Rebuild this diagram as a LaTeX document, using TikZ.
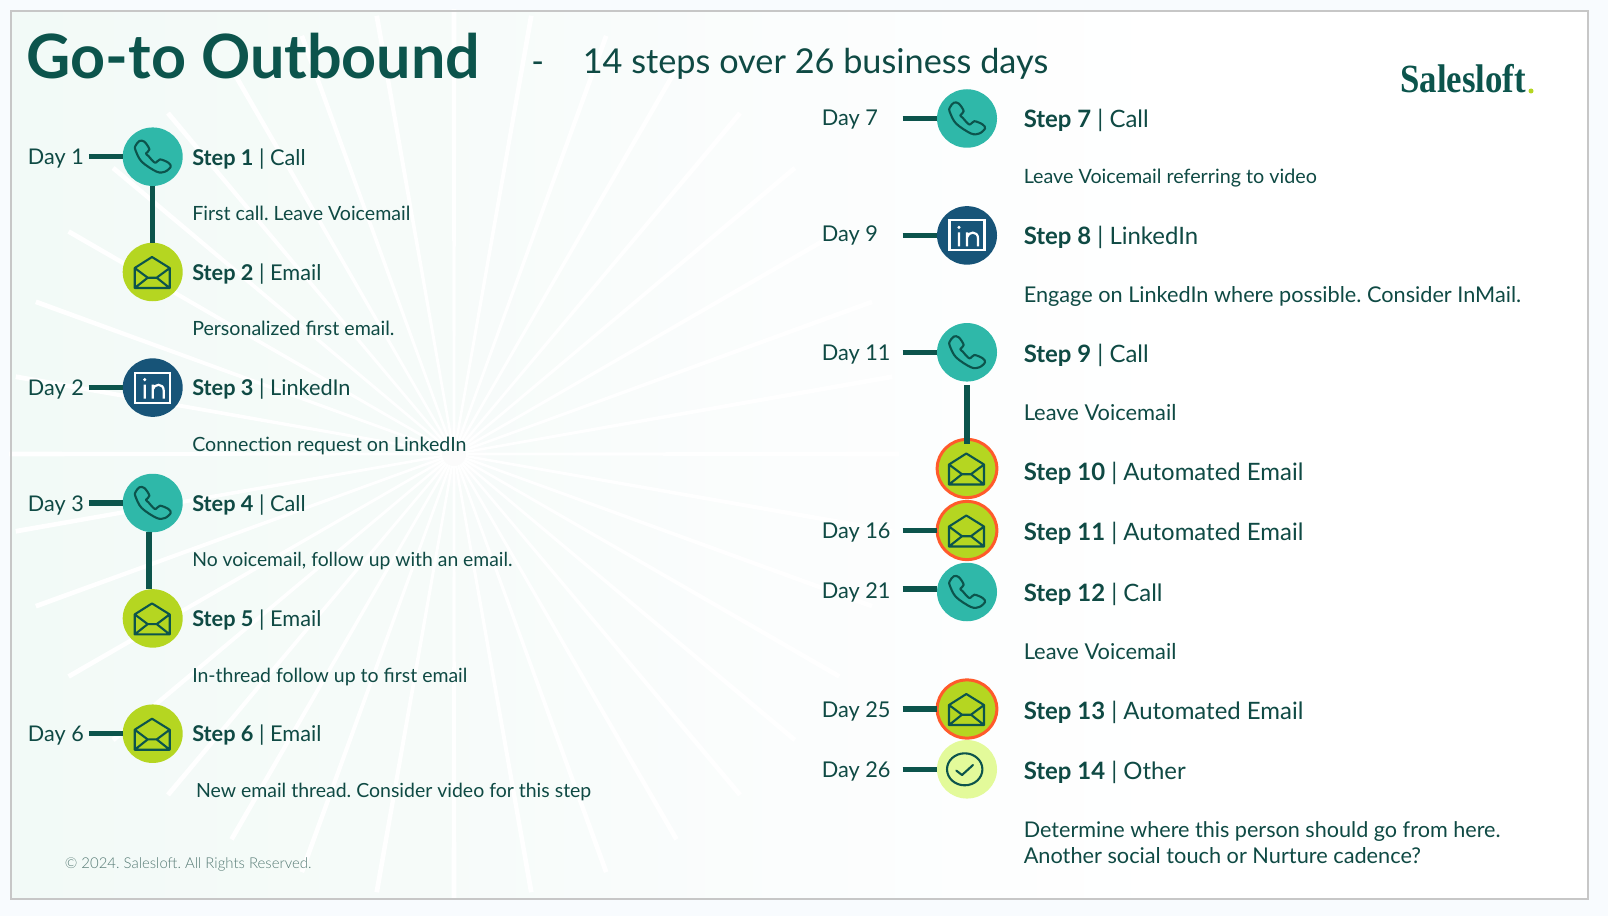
\documentclass[tikz,border=0pt]{standalone}
\usepackage{fontspec}
\setmainfont{Lato}
\newfontfamily\lightfont{Lato Light}
\newfontfamily\logofont[FakeStretch=0.87]{Liberation Serif}
\usetikzlibrary{calc,shadings,shapes.geometric}
\frenchspacing
\definecolor{ink}{HTML}{0F4A44}
\definecolor{deep}{HTML}{0C544C}
\definecolor{tealc}{HTML}{2FB8A9}
\definecolor{limec}{HTML}{B5D621}
\definecolor{orangec}{HTML}{FF5A2B}
\definecolor{palec}{HTML}{E3FA9A}
\definecolor{navyc}{HTML}{175478}
\definecolor{pagec}{HTML}{F8FBFE}
\definecolor{panelA}{HTML}{F2FAF7}
\definecolor{panelB}{HTML}{F6FBF9}
\definecolor{panelC}{HTML}{FBFDFD}
\definecolor{foot}{HTML}{557A74}
\pgfdeclarehorizontalshading{panelshade}{100bp}{color(0bp)=(panelA);color(25bp)=(panelA);color(38bp)=(panelB);color(50bp)=(panelC);color(62bp)=(white);color(100bp)=(white)}
\tikzset{
  dot/.style={ellipse,minimum width=60*0.75pt,minimum height=58.5*0.75pt,inner sep=0pt,outer sep=0pt},
  call/.style={dot,fill=tealc},
  mail/.style={dot,fill=limec},
  auto/.style={dot,fill=limec,draw=orangec,line width=3*0.75pt,minimum width=59.7*0.75pt,minimum height=58.2*0.75pt},
  link/.style={dot,fill=navyc},
  other/.style={dot,fill=palec},
  link line/.style={draw=deep,line width=5.3*0.75pt},
  icon/.style={draw=deep,line width=2.1*0.75pt,line join=round,line cap=round},
  txt/.style={anchor=base west,inner sep=0pt,text=ink},
  stepL/.style={txt,font=\fontsize{16.3}{20}\selectfont},
  stepR/.style={txt,font=\fontsize{17.95}{22}\selectfont},
  descL/.style={txt,font=\fontsize{14.7}{18}\selectfont},
  descR/.style={txt,font=\fontsize{16.4}{20}\selectfont},
  dayL/.style={txt,font=\fontsize{16.2}{20}\selectfont},
  dayR/.style={txt,font=\fontsize{16.3}{20}\selectfont},
  ph/.pic={\draw[icon] plot[smooth cycle,tension=0.55] coordinates {(-17.3,-6.7)(-11,5)(4,15)(12.3,15)(18,10)(15.7,6)(7.3,2.7)(2.3,6)(-4.3,-0.7)(-6.7,-3.3)(-3.3,-7.3)(-8.3,-15)(-13.3,-15.7)(-17.3,-10.7)};},
  env/.pic={\draw[icon] (-18,-4)--(-0.7,-15)--(17,-4)--(17,16)--(-18,16)--cycle
     (-18,-4)--(-5,5.7)--(4,5.7)--(17,-4) (-18,16)--(-5,5.7) (4,5.7)--(17,16);},
  lin/.pic={\draw[draw=white,line width=2.1*0.75pt] (-17.5,-15) rectangle (17.5,15);
     \draw[white,line width=2.2*0.75pt] (-8,-3)--(-8,11) (0,11)--(0,-3) (0,2) .. controls (1,-4) and (11,-5) .. (11,3) -- (11,11);
     \fill[white] (-8,-8) circle (1.7);},
  chk/.pic={\draw[icon] (-2.3,0) ellipse (17.7 and 16); \draw[icon] (-10.7,1.3)--(-5,5.7)--(6,-4.3);},
}
\begin{document}
\begin{tikzpicture}[x=0.75pt,y=-0.75pt]
\useasboundingbox (0,0) rectangle (1608,916);
\fill[pagec] (0,0) rectangle (1608,916);
\shade[shading=panelshade] (11,11) rectangle (1588,899);
% sunburst
\foreach \a in {0,10,...,350}{
  \fill[white] ($(454,454)+(\a:12)+(\a+90:1.2)$) -- ($(454,454)+(\a:445)+(\a+90:2.4)$) -- ($(454,454)+(\a:445)+(\a-90:2.4)$) -- ($(454,454)+(\a:12)+(\a-90:1.2)$) -- cycle;
}
\foreach \r in {32,29,...,14}{\fill[white,opacity=0.2] (454,454) circle (\r);}
\draw[draw=black!22,line width=1.5] (11,11) rectangle (1588,899);
% title
\node[txt,text=deep,font=\fontsize{45.8}{50}\selectfont\bfseries] (title) at (26.5,78.8) {Go-to Outbound};
\node[txt,text=ink,font=\fontsize{25.7}{28}\selectfont] (dash) at (531,73.5) {-};
\node[txt,text=ink,font=\fontsize{25.7}{28}\selectfont] (sub) at (582.5,73.5) {14 steps over 26 business days};
% logo
\node[anchor=base west,inner sep=0pt,text=deep,font=\fontsize{30}{32}\logofont\bfseries] (logo) at (1400,93) {Salesloft};
\fill[limec] (1531,91) circle (2.5);
% circles left
\node[call] (s1) at (152.7,156.7) {};
\node[mail] (s2) at (152.7,272) {};
\node[link] (s3) at (152.7,387.6) {};
\node[call] (s4) at (152.7,503) {};
\node[mail] (s5) at (152.7,618.4) {};
\node[mail] (s6) at (152.7,733.7) {};
% circles right
\node[call] (s7) at (967,118.5) {};
\node[link] (s8) at (967,235.4) {};
\node[call] (s9) at (967,352.3) {};
\node[auto] (s10) at (967,468.5) {};
\node[auto] (s11) at (967,530.5) {};
\node[call] (s12) at (967,592) {};
\node[auto] (s13) at (967,709) {};
\node[other] (s14) at (967,769.3) {};
% icons
\foreach \n in {1,4,7,9,12}{\pic at (s\n) {ph};}
\foreach \n in {2,5,6,10,11,13}{\pic at (s\n) {env};}
\foreach \n in {3,8}{\pic at (s\n) {lin};}
\pic at (s14) {chk};
% free ends of the day stubs
\coordinate (e1) at (88.8,156.7);
\coordinate (e3) at (88.8,387.6);
\coordinate (e4) at (88.8,503);
\coordinate (e6) at (88.8,733.7);
\coordinate (e7) at (902.7,118.5);
\coordinate (e8) at (902.7,235.4);
\coordinate (e9) at (902.7,352.3);
\coordinate (e11) at (902.7,530.5);
\coordinate (e12) at (902.7,589);
\coordinate (e13) at (902.7,709);
\coordinate (e14) at (902.7,769.3);
\foreach \n in {1,3,4,6,7,8,9,11,13,14}{\draw[link line] (e\n) -- (s\n.west);}
\draw[link line] (e12) -- (s12.west |- e12);
\draw[link line] (s1.south) -- (s2.north);
\draw[link line] ($(s4.south)+(-3.7,0)$) -- ($(s5.north)+(-3.7,0)$);
\draw[link line] ($(s9.south)+(0,3.6)$) -- ($(s10.north)+(0,4.5)$);
% day labels
\node[dayL] (d1) at (27.7,165) {Day 1};
\node[dayL] (d2) at (27.7,395.6) {Day 2};
\node[dayL] (d3) at (27.7,511) {Day 3};
\node[dayL] (d6) at (27.7,741.7) {Day 6};
\node[dayR] (d7) at (821.5,126) {Day 7};
\node[dayR] (d9) at (821.5,242) {Day 9};
\node[dayR] (d11) at (821.5,360) {Day 11};
\node[dayR] (d16) at (821.5,538) {Day 16};
\node[dayR] (d21) at (821.5,598) {Day 21};
\node[dayR] (d25) at (821.5,717) {Day 25};
\node[dayR] (d26) at (821.5,777) {Day 26};
% steps left
\node[stepL] (t1) at (192,165.3) {\textbf{Step 1} | Call};
\node[stepL] (t2) at (192,280) {\textbf{Step 2} | Email};
\node[stepL] (t3) at (192,395) {\textbf{Step 3} | LinkedIn};
\node[stepL] (t4) at (192,511) {\textbf{Step 4} | Call};
\node[stepL] (t5) at (192,626) {\textbf{Step 5} | Email};
\node[stepL] (t6) at (192,741) {\textbf{Step 6} | Email};
\node[descL] (c1) at (192,221) {First call. Leave Voicemail};
\node[descL] (c2) at (192,335) {Personalized first email.};
\node[descL] (c3) at (192,451.5) {Connection request on LinkedIn};
\node[descL,font=\fontsize{14.5}{18}\selectfont] (c4) at (192,566) {No voicemail, follow up with an email.};
\node[descL,font=\fontsize{14.6}{18}\selectfont] (c5) at (192,682) {In-thread follow up to first email};
\node[descL,font=\fontsize{14.6}{18}\selectfont] (c6) at (195.8,797) {New email thread. Consider video for this step};
% steps right
\node[stepR] (t7) at (1023.5,127.5) {\textbf{Step 7} | Call};
\node[stepR] (t8) at (1023.5,244.2) {\textbf{Step 8} | LinkedIn};
\node[stepR] (t9) at (1023.5,362) {\textbf{Step 9} | Call};
\node[stepR] (t10) at (1023.5,480) {\textbf{Step 10} | Automated Email};
\node[stepR] (t11) at (1023.5,540) {\textbf{Step 11} | Automated Email};
\node[stepR] (t12) at (1023.5,601) {\textbf{Step 12} | Call};
\node[stepR] (t13) at (1023.5,719) {\textbf{Step 13} | Automated Email};
\node[stepR] (t14) at (1023.5,779) {\textbf{Step 14} | Other};
\node[descR,font=\fontsize{14.8}{18}\selectfont] (c7) at (1023.5,183.7) {Leave Voicemail referring to video};
\node[descR,font=\fontsize{16.27}{20}\selectfont] (c8) at (1023.5,302) {Engage on LinkedIn where possible. Consider InMail.};
\node[descR] (c9) at (1023.5,420) {Leave Voicemail};
\node[descR] (c12) at (1023.5,659) {Leave Voicemail};
\node[descR,font=\fontsize{16.2}{20}\selectfont] (c14a) at (1023.5,837.5) {Determine where this person should go from here.};
\node[descR,font=\fontsize{16.3}{20}\selectfont] (c14b) at (1023.5,863.5) {Another social touch or Nurture cadence?};
% footer
\node[txt,text=foot,font=\fontsize{11.2}{14}\lightfont] (foot) at (64.6,868) {© 2024. Salesloft. All Rights Reserved.};
\end{tikzpicture}
\end{document}
